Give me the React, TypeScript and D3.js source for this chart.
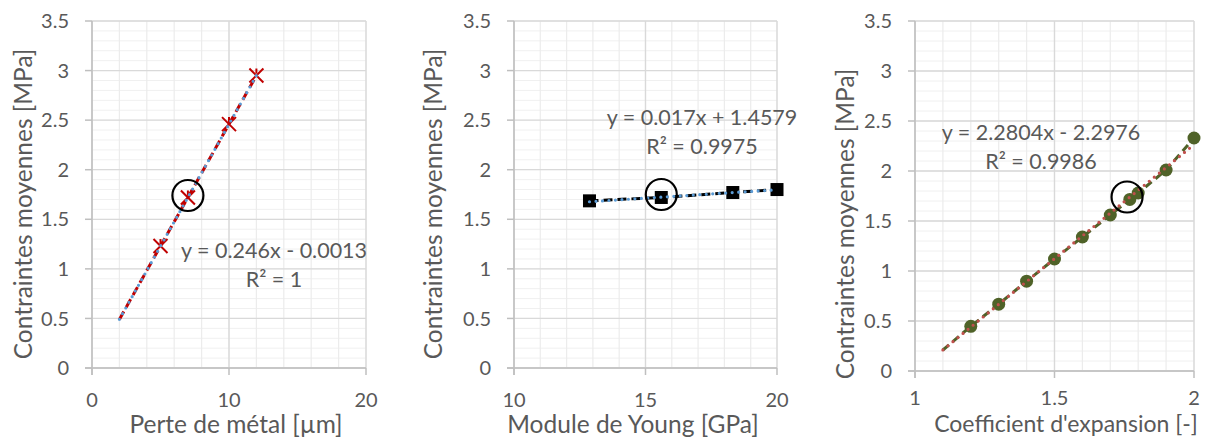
import React from 'react'
import * as d3 from 'd3'

// --- data ---
// panel 1 : perte de métal
const perteX = [2, 5, 7, 10, 12]
const perteY = [0.49, 1.23, 1.72, 2.46, 2.95]
const perteFit = { a: 0.246, b: -0.0013, label: 'y = 0.246x - 0.0013', r2: 'R² = 1' }
const perteHighlight = [7, 1.74]

// panel 2 : module de Young
const youngX = [12.87, 15.6, 18.32, 20]
const youngY = [1.686, 1.72, 1.77, 1.8]
const youngFit = { a: 0.017, b: 1.4579, label: 'y = 0.017x + 1.4579', r2: 'R² = 0.9975' }
const youngHighlight = [15.6, 1.75]

// panel 3 : coefficient d'expansion
const expX = [1.1, 1.2, 1.3, 1.4, 1.5, 1.6, 1.7, 1.77, 1.8, 1.9, 2.0]
const expY = [0.21, 0.447, 0.668, 0.898, 1.12, 1.34, 1.56, 1.716, 1.78, 2.01, 2.33]
const expFit = { a: 2.2804, b: -2.2976, label: 'y = 2.2804x - 2.2976', r2: 'R² = 0.9986' }
const expHighlight = [1.76, 1.74]

const yTicks = [0, 0.5, 1, 1.5, 2, 2.5, 3, 3.5]
const yTitle = 'Contraintes moyennes [MPa]'

const FONT = 'Lato, "Open Sans", sans-serif'
const TXT = '#595959'

type PanelProps = {
  left: number; right: number; top: number; bottom: number
  xDomain: [number, number]; xTicks: number[]; xMinor: number
  xs: number[]; ys: number[]; markFrom: number
  fit: { a: number; b: number; label: string; r2: string }
  highlight: number[]
  marker: 'star' | 'square' | 'circle'
  lineColor: string; lineDash: string; markColor: string; trendColor: string
  xTitle: string; xTitleSize: number
  yTitlePos: [number, number]; xTitlePos: [number, number]; eqPos: [number, number]
  xLabelOffset: number
}

const Panel = (p: PanelProps) => {
  const x = d3.scaleLinear().domain(p.xDomain).range([p.left, p.right])
  const y = d3.scaleLinear().domain([0, 3.5]).range([p.bottom, p.top])
  const xMinorTicks = d3.range(p.xDomain[0], p.xDomain[1] + 1e-9, p.xMinor)
  const yMinorTicks = d3.range(0, 3.5 + 1e-9, 0.1)
  const line = d3.line<number>().x((_, i) => x(p.xs[i])).y((_, i) => y(p.ys[i]))
  const x0 = p.xs[0], x1 = p.xs[p.xs.length - 1]

  const drawMarker = (cx: number, cy: number, i: number) => {
    if (p.marker === 'star') {
      const s = 7
      return (
        <g key={i} stroke={p.markColor} strokeWidth={2}>
          <line x1={cx - s} y1={cy - s} x2={cx + s} y2={cy + s} />
          <line x1={cx - s} y1={cy + s} x2={cx + s} y2={cy - s} />
          <line x1={cx} y1={cy - s} x2={cx} y2={cy - 2} />
        </g>
      )
    }
    if (p.marker === 'square') {
      return <rect key={i} x={cx - 6.5} y={cy - 6.5} width={13} height={13} fill={p.markColor} />
    }
    return <circle key={i} cx={cx} cy={cy} r={6.5} fill={p.markColor} />
  }

  return (
    <g fontFamily={FONT}>
      {/* minor grid */}
      {yMinorTicks.map((t, i) => (
        <line key={'ym' + i} x1={p.left} x2={p.right} y1={y(t)} y2={y(t)} stroke="#f0f0f0" strokeWidth={1} />
      ))}
      {xMinorTicks.map((t, i) => (
        <line key={'xm' + i} x1={x(t)} x2={x(t)} y1={p.top} y2={p.bottom} stroke="#ececec" strokeWidth={1.2} />
      ))}
      {/* major grid */}
      {yTicks.map((t, i) => (
        <line key={'yM' + i} x1={p.left} x2={p.right} y1={y(t)} y2={y(t)} stroke="#d9d9d9" strokeWidth={1.3} />
      ))}
      {p.xTicks.map((t, i) => (
        <line key={'xM' + i} x1={x(t)} x2={x(t)} y1={p.top} y2={p.bottom} stroke="#d9d9d9" strokeWidth={1.3} />
      ))}
      {/* axes */}
      <line x1={p.left} x2={p.left} y1={p.top} y2={p.bottom + 7} stroke="#bfbfbf" strokeWidth={1.5} />
      <line x1={p.left - 7} x2={p.right} y1={p.bottom} y2={p.bottom} stroke="#bfbfbf" strokeWidth={1.5} />
      {yTicks.map((t, i) => (
        <line key={'yt' + i} x1={p.left - 7} x2={p.left} y1={y(t)} y2={y(t)} stroke="#bfbfbf" strokeWidth={1.5} />
      ))}
      {p.xTicks.map((t, i) => (
        <line key={'xt' + i} x1={x(t)} x2={x(t)} y1={p.bottom} y2={p.bottom + 7} stroke="#bfbfbf" strokeWidth={1.5} />
      ))}
      {/* tick labels */}
      {yTicks.map((t, i) => (
        <text key={'yl' + i} x={p.left - 23} y={y(t)} dy="0.36em" textAnchor="end" fontSize={20} fill={TXT}>{t}</text>
      ))}
      {p.xTicks.map((t, i) => (
        <text key={'xl' + i} x={x(t)} y={p.bottom + p.xLabelOffset} textAnchor="middle" fontSize={20} fill={TXT}>{t}</text>
      ))}
      {/* series line */}
      <path d={line(p.xs) || ''} fill="none" stroke={p.lineColor} strokeWidth={3} strokeDasharray={p.lineDash} />
      {/* markers */}
      {p.xs.map((v, i) => (i >= p.markFrom ? drawMarker(x(v), y(p.ys[i]), i) : null))}
      {/* trendline */}
      <line
        x1={x(x0)} y1={y(p.fit.a * x0 + p.fit.b)} x2={x(x1)} y2={y(p.fit.a * x1 + p.fit.b)}
        stroke={p.trendColor} strokeWidth={3.2} strokeLinecap="round" strokeDasharray="0,6.5"
      />
      {/* highlight circle */}
      <circle cx={x(p.highlight[0])} cy={y(p.highlight[1])} r={15.5} fill="none" stroke="#000" strokeWidth={2.2} />
      {/* equation */}
      <text x={p.eqPos[0]} y={p.eqPos[1]} textAnchor="middle" fontSize={21.5} fill={TXT}>{p.fit.label}</text>
      <text x={p.eqPos[0]} y={p.eqPos[1] + 29} textAnchor="middle" fontSize={21.5} fill={TXT}>{p.fit.r2}</text>
      {/* titles */}
      <text transform={`translate(${p.yTitlePos[0]},${p.yTitlePos[1]}) rotate(-90)`} textAnchor="middle" fontSize={24.5} fill={TXT}>{yTitle}</text>
      <text x={p.xTitlePos[0]} y={p.xTitlePos[1]} textAnchor="middle" fontSize={p.xTitleSize} fill={TXT}>{p.xTitle}</text>
    </g>
  )
}

const App = () => {
  return (
    <svg width={1215} height={438} style={{ position: 'absolute', left: 0, top: 0, background: '#fff' }}>
      <rect width={1215} height={438} fill="#fff" />
      <Panel
        left={92} right={366} top={21} bottom={368}
        xDomain={[0, 20]} xTicks={[0, 10, 20]} xMinor={2}
        xs={perteX} ys={perteY} markFrom={1}
        fit={perteFit} highlight={perteHighlight}
        marker="star" lineColor="#c00000" lineDash="9,5" markColor="#c00000" trendColor="#5b9bd5"
        xTitle="Perte de métal [µm]" xTitleSize={24.5} xLabelOffset={39}
        yTitlePos={[32, 204]} xTitlePos={[236, 433]} eqPos={[274, 258]}
      />
      <Panel
        left={514} right={777} top={21} bottom={368}
        xDomain={[10, 20]} xTicks={[10, 15, 20]} xMinor={1}
        xs={youngX} ys={youngY} markFrom={0}
        fit={youngFit} highlight={youngHighlight}
        marker="square" lineColor="#000" lineDash="9,5" markColor="#000" trendColor="#5b9bd5"
        xTitle="Module de Young [GPa]" xTitleSize={24.5} xLabelOffset={39}
        yTitlePos={[442, 204]} xTitlePos={[633, 433]} eqPos={[702, 125]}
      />
      <Panel
        left={915} right={1194} top={21} bottom={371}
        xDomain={[1, 2]} xTicks={[1, 1.5, 2]} xMinor={0.1}
        xs={expX} ys={expY} markFrom={1}
        fit={expFit} highlight={expHighlight}
        marker="circle" lineColor="#4f6228" lineDash="8,5" markColor="#4f6228" trendColor="#c0504d"
        xTitle="Coefficient d'expansion [-]" xTitleSize={23} xLabelOffset={34}
        yTitlePos={[854, 224]} xTitlePos={[1066, 432]} eqPos={[1041, 140]}
      />
    </svg>
  )
}

export default App
